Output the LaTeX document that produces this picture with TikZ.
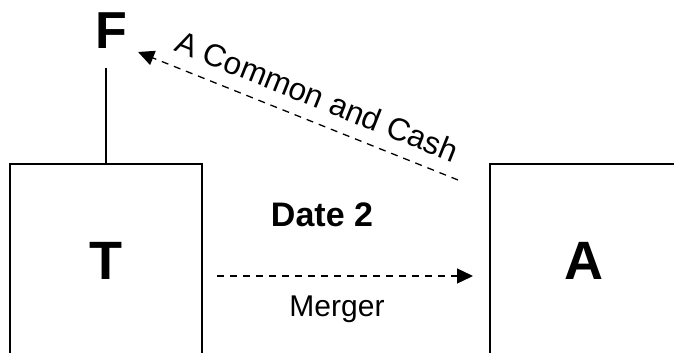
\documentclass[tikz,border=0pt]{standalone}
\usepackage{fontspec}
\setmainfont{Liberation Sans}
\usepackage{tikz}
\usetikzlibrary{calc, positioning, arrows.meta}

\begin{document}
\begin{tikzpicture}[x=1pt, y=-1pt]
  % --- Frame: page is the picture, everything outside is cut ---
  \useasboundingbox (0,0) rectangle (674,353);
  \clip (0,0) rectangle (674,353);

  % --- Styles ---
  \tikzset{
    firm box/.style={draw, line width=2pt, minimum height=224pt, outer sep=0pt, inner sep=0pt},
    big letter/.style={font=\fontsize{54}{60}\selectfont\bfseries, inner sep=0pt},
    flow arrow/.style={line width=1.3pt, dash pattern=on 7pt off 6pt,
      -{Triangle[length=16pt, width=15pt]}},
    flow text/.style={font=\fontsize{30}{34}\selectfont, inner sep=0pt}
  }

  % --- The two firms (boxes run past the bottom and right edge) ---
  \node[firm box, minimum width=192pt] (Tbox) at (106,276) {};
  \node[firm box, minimum width=250pt] (Abox) at (615,276) {};
  \node[big letter] (T) at (106,260.5) {T};
  \node[big letter] (A) at (584,261) {A};

  % --- Parent on top of T ---
  \node[big letter, font=\fontsize{52}{60}\selectfont\bfseries] (F) at (111,30.5) {F};
  \draw[line width=2pt, shorten >=19pt] (Tbox.north) -- (Tbox.north |- F.south);

  % --- Date 2: merger of T into A ---
  \draw[flow arrow, shorten <=15pt, shorten >=17pt] (Tbox.east) -- (Abox.west);
  \node[flow text, font=\fontsize{34}{38}\selectfont\bfseries, anchor=base] (date) at (322,226) {Date 2};
  \node[flow text, anchor=base] (merger) at (337,316) {Merger};

  % --- Payment to F ---
  \coordinate (cash tail) at ($(Abox.north west)+(-32,16)$);
  \coordinate (cash tip) at ($(F.east)+(11,21.5)$);
  \draw[flow arrow] (cash tail) -- (cash tip)
    node[pos=0.47, sloped, above=13pt, flow text, font=\fontsize{31.5}{34}\selectfont] (payment) {A Common and Cash};

\end{tikzpicture}
\end{document}
